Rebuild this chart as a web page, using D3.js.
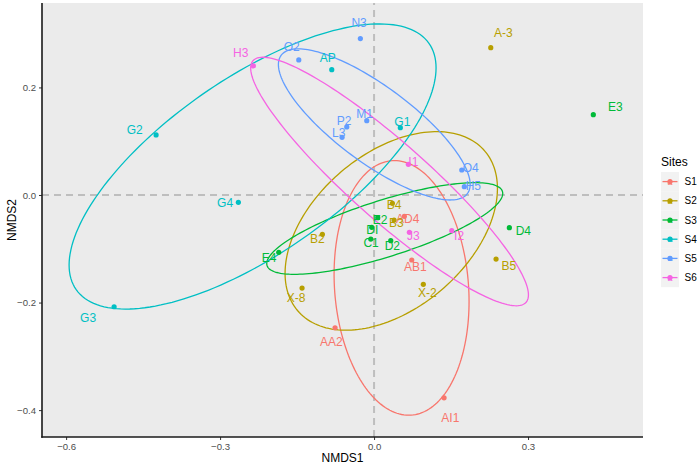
<!DOCTYPE html>
<html>
<head>
<meta charset="utf-8">
<script src="https://cdn.jsdelivr.net/npm/d3@7"></script>
<style>
  html, body { margin: 0; padding: 0; background: #ffffff; }
  svg { display: block; }
  text { font-family: "Liberation Sans", Arial, sans-serif; }
</style>
</head>
<body>
<svg id="chart" width="700" height="469"></svg>
<script>
// ---------------- data ----------------
const sites = ["S1", "S2", "S3", "S4", "S5", "S6"];
const siteColors = ["#F8766D", "#B79F00", "#00BA38", "#00BFC4", "#619CFF", "#F564E3"];

const sampleNames = ["AD4","AB1","AA2","AI1",
  "A-3","B4","B3","B2","X-8","X-2","B5",
  "E3","D4","E2","DI","C1","D2","E4",
  "AP","G1","G2","G4","G3",
  "O2","N3","M1","P2","L3","O4","H5",
  "H3","I1","J3","I2"];
const sampleSite = ["S1","S1","S1","S1",
  "S2","S2","S2","S2","S2","S2","S2",
  "S3","S3","S3","S3","S3","S3","S3",
  "S4","S4","S4","S4","S4",
  "S5","S5","S5","S5","S5","S5","S5",
  "S6","S6","S6","S6"];
const nmds1 = [0.0590, 0.0734, -0.0760, 0.1364,
  0.2274, 0.0357, 0.0390, -0.1007, -0.1403, 0.0960, 0.2377,
  0.4272, 0.2636, 0.0072, -0.0045, -0.0064, 0.0325, -0.1857,
  -0.0824, 0.0512, -0.4247, -0.2644, -0.5065,
  -0.1467, -0.0267, -0.0142, -0.0532, -0.0623, 0.1709, 0.1759,
  -0.2351, 0.0668, 0.0688, 0.1514];
const nmds2 = [-0.0396, -0.1209, -0.2469, -0.3771,
  0.2740, -0.0154, -0.0465, -0.0731, -0.1730, -0.1661, -0.1191,
  0.1494, -0.0608, -0.0422, -0.0601, -0.0819, -0.0850, -0.1066,
  0.2331, 0.1252, 0.1116, -0.0136, -0.2078,
  0.2512, 0.2908, 0.1382, 0.1265, 0.1073, 0.0465, 0.0154,
  0.2400, 0.0571, -0.0694, -0.0664];
// repelled label anchor positions (data units)
const labelNmds1 = [0.0657, 0.0805, -0.0832, 0.1486,
  0.2519, 0.0390, 0.0434, -0.1105, -0.1520, 0.1038, 0.2624,
  0.4701, 0.2909, 0.0117, -0.0033, -0.0058, 0.0357, -0.2046,
  -0.0902, 0.0551, -0.4662, -0.2903, -0.5572,
  -0.1603, -0.0292, -0.0185, -0.0584, -0.0688, 0.1884, 0.1935,
  -0.2597, 0.0766, 0.0766, 0.1656];
const labelNmds2 = [-0.0447, -0.1340, -0.2729, -0.4154,
  0.3020, -0.0186, -0.0521, -0.0813, -0.1911, -0.1829, -0.1315,
  0.1632, -0.0670, -0.0465, -0.0657, -0.0899, -0.0943, -0.1178,
  0.2554, 0.1364, 0.1209, -0.0143, -0.2294,
  0.2759, 0.3194, 0.1507, 0.1382, 0.1159, 0.0497, 0.0173,
  0.2636, 0.0608, -0.0768, -0.0757];

// confidence ellipses per site: centre, x half-extent, y half-extent,
// and vertical offset of the point of max NMDS1 (data units)
const ellCenterX = [0.0536, 0.0335, 0.0208, -0.2367, 0.0004, 0.0302];
const ellCenterY = [-0.1728, -0.0668, -0.0623, 0.0530, 0.1312, 0.0251];
const ellHalfX   = [0.1315, 0.2069, 0.2299, 0.3575, 0.1868, 0.2706];
const ellHalfY   = [0.2367, 0.1846, 0.0852, 0.2651, 0.1405, 0.2311];
const ellYAtMaxX = [-0.0251, 0.0789, 0.0651, 0.1833, -0.1114, -0.2108];

const xTicks = [-0.6, -0.3, 0.0, 0.3];
const yTicks = [-0.4, -0.2, 0.0, 0.2];
const xDomain = [-0.647, 0.524];
const yDomain = [-0.450, 0.357];

// ---------------- layout ----------------
const svg = d3.select("#chart");
const W = 700, H = 469;
const panel = { left: 42, right: 643, top: 3, bottom: 437 };

const x = d3.scaleLinear().domain(xDomain).range([panel.left, panel.right]);
const y = d3.scaleLinear().domain(yDomain).range([panel.bottom, panel.top]);
const color = d3.scaleOrdinal().domain(sites).range(siteColors);

const fmt = v => (v < 0 ? "\u2212" : "") + d3.format(".1f")(Math.abs(v));

// panel background
svg.append("rect")
  .attr("x", panel.left).attr("y", panel.top)
  .attr("width", panel.right - panel.left).attr("height", panel.bottom - panel.top)
  .attr("fill", "#EBEBEB");

const plot = svg.append("g");
plot.append("clipPath").attr("id", "clip").append("rect")
  .attr("x", panel.left).attr("y", panel.top)
  .attr("width", panel.right - panel.left).attr("height", panel.bottom - panel.top);
const inner = plot.append("g").attr("clip-path", "url(#clip)");

// reference lines
inner.append("line")
  .attr("x1", x(xDomain[0])).attr("x2", x(xDomain[1]))
  .attr("y1", y(0)).attr("y2", y(0))
  .attr("stroke", "#BEBEBE").attr("stroke-width", 2).attr("stroke-dasharray", "7,5");
inner.append("line")
  .attr("x1", x(0)).attr("x2", x(0))
  .attr("y1", y(yDomain[0])).attr("y2", y(yDomain[1]))
  .attr("stroke", "#BEBEBE").attr("stroke-width", 2).attr("stroke-dasharray", "7,5");

// ellipses
const line = d3.line().x(d => x(d[0])).y(d => y(d[1])).curve(d3.curveLinearClosed);
sites.forEach((s, i) => {
  const cx = ellCenterX[i], cy = ellCenterY[i];
  const a = ellHalfX[i], b = ellHalfY[i], o = ellYAtMaxX[i];
  const r = Math.sqrt(Math.max(b * b - o * o, 0));
  const pts = d3.range(0, 361, 2).map(deg => {
    const t = deg * Math.PI / 180;
    return [cx + a * Math.cos(t), cy + o * Math.cos(t) + r * Math.sin(t)];
  });
  inner.append("path").datum(pts)
    .attr("d", line)
    .attr("fill", "none")
    .attr("stroke", color(s))
    .attr("stroke-width", 1.3);
});

// points
const samples = sampleNames.map((n, i) => ({
  name: n, site: sampleSite[i], x: nmds1[i], y: nmds2[i], lx: labelNmds1[i], ly: labelNmds2[i]
}));
inner.selectAll("circle.pt").data(samples).join("circle")
  .attr("class", "pt")
  .attr("cx", d => x(d.x)).attr("cy", d => y(d.y)).attr("r", 2.6)
  .attr("fill", d => color(d.site));

// labels
inner.selectAll("text.lab").data(samples).join("text")
  .attr("class", "lab")
  .attr("x", d => x(d.lx)).attr("y", d => y(d.ly))
  .attr("text-anchor", "middle").attr("dominant-baseline", "central")
  .attr("font-size", 12)
  .attr("fill", d => color(d.site))
  .text(d => d.name);

// axes
const xAxis = d3.axisBottom(x).tickValues(xTicks).tickFormat(fmt).tickSize(3).tickPadding(3);
const yAxis = d3.axisLeft(y).tickValues(yTicks).tickFormat(fmt).tickSize(3).tickPadding(3);

const gx = svg.append("g").attr("transform", `translate(0,${panel.bottom})`).call(xAxis);
const gy = svg.append("g").attr("transform", `translate(${panel.left},0)`).call(yAxis);
[gx, gy].forEach(g => {
  g.select(".domain").remove();
  g.selectAll(".tick line").attr("stroke", "#333333").attr("stroke-width", 1);
  g.selectAll(".tick text").attr("fill", "#4D4D4D").attr("font-size", 9.6)
    .attr("font-family", "Liberation Sans, Arial, sans-serif");
});
// axis lines
svg.append("line").attr("x1", panel.left).attr("x2", panel.left)
  .attr("y1", panel.top).attr("y2", panel.bottom + 0.75)
  .attr("stroke", "#1a1a1a").attr("stroke-width", 1.6);
svg.append("line").attr("x1", panel.left - 0.75).attr("x2", panel.right)
  .attr("y1", panel.bottom).attr("y2", panel.bottom)
  .attr("stroke", "#1a1a1a").attr("stroke-width", 1.6);

// axis titles
svg.append("text")
  .attr("x", (panel.left + panel.right) / 2).attr("y", 462)
  .attr("text-anchor", "middle").attr("font-size", 12).attr("fill", "#000")
  .text("NMDS1");
svg.append("text")
  .attr("transform", `translate(16,${(panel.top + panel.bottom) / 2}) rotate(-90)`)
  .attr("text-anchor", "middle").attr("font-size", 12).attr("fill", "#000")
  .text("NMDS2");

// legend
const legend = svg.append("g");
legend.append("text").attr("x", 661).attr("y", 166)
  .attr("font-size", 12).attr("fill", "#000").text("Sites");
const keyTop = 172, keyH = 19.2, keyX = 661, keyW = 18;
sites.forEach((s, i) => {
  const cy = keyTop + i * keyH + keyH / 2;
  const g = legend.append("g");
  g.append("rect").attr("x", keyX).attr("y", keyTop + i * keyH)
    .attr("width", keyW).attr("height", keyH).attr("fill", "#F2F2F2");
  g.append("line").attr("x1", keyX + 1.5).attr("x2", keyX + keyW - 1.5)
    .attr("y1", cy).attr("y2", cy)
    .attr("stroke", color(s)).attr("stroke-width", 1.3);
  g.append("circle").attr("cx", keyX + keyW / 2).attr("cy", cy).attr("r", 2.6).attr("fill", color(s));
  g.append("text").attr("x", keyX + keyW / 2).attr("y", cy + 3)
    .attr("text-anchor", "middle").attr("font-size", 9).attr("fill", color(s)).text("a");
  g.append("text").attr("x", keyX + keyW + 5.5).attr("y", cy)
    .attr("dominant-baseline", "central").attr("font-size", 10).attr("fill", "#000").text(s);
});
</script>
</body>
</html>
